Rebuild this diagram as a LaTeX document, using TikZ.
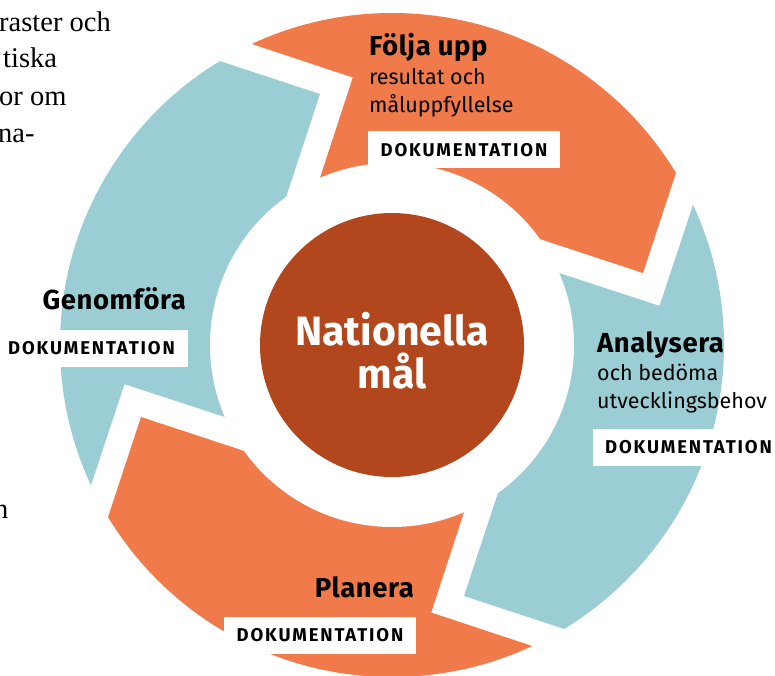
\documentclass[tikz,border=0pt]{standalone}
\usepackage{fontspec}
\setmainfont{Fira Sans}
\newfontfamily\bodyserif{Liberation Serif}
\newfontfamily\titlefont[LetterSpace=2.0]{Fira Sans}
\newfontfamily\docfont[LetterSpace=10.0]{Fira Sans}
\definecolor{ringorange}{HTML}{F07A4A}
\definecolor{ringteal}{HTML}{9BCED4}
\definecolor{corebrown}{HTML}{B2471E}
\tikzset{
  stagetitle/.style={inner sep=0pt, font=\titlefont\fontsize{27.5}{32}\selectfont\bfseries, text=black},
  stagetext/.style={inner sep=0pt, font=\fontsize{21.5}{26}\selectfont, text=black},
  docbox/.style={fill=white, inner sep=0pt, minimum width=192pt, minimum height=37pt,
    font=\docfont\fontsize{18.5}{22}\selectfont\bfseries, text=black},
  bodytext/.style={inner sep=0pt, font=\bodyserif\fontsize{28.5}{34}\selectfont, text=black, anchor=base west},
}
\begin{document}
\begin{tikzpicture}[x=1pt,y=1pt]
\useasboundingbox (0,0) rectangle (775,-676);
\clip (0,0) rectangle (775,-676);

% running text of the page, cut at the left margin
\node[bodytext] (t1) at (-1,-32) {raster och};
\node[bodytext] (t2) at (3,-68) {tiska};
\node[bodytext] (t3) at (-1,-106) {or om};
\node[bodytext] (t4) at (-2,-143) {na-};
\node[bodytext] (t5) at (-6,-518) {n};

% ring of four chevron-shaped stages, flowing clockwise
\begin{scope}[shift={(392,-345)}]
  \foreach \ang/\col in {0/ringorange, -90/ringteal, -180/ringorange, -270/ringteal}{
    \begin{scope}[rotate=\ang]
      \clip (0,0) circle (332);
      \fill[\col] (301,224) -- (251,72) -- (90,125) -- (0,0) -- (-92,106)
        -- (-39.2,267.5) -- (-229,330.5) -- (0,600) -- (500,400) -- cycle;
    \end{scope}
  }
  \fill[white] (0,0) circle (182);
\end{scope}

% centre
\node[circle, fill=corebrown, minimum size=264pt, inner sep=0pt] (core) at (392,-345) {};
\node[inner sep=0pt, anchor=base, text=white, font=\fontsize{41}{48}\selectfont\bfseries] (nat) at (392,-345) {Nationella};
\node[inner sep=0pt, anchor=base, text=white, font=\fontsize{41}{48}\selectfont\bfseries] (mal) at (392,-388) {mål};

% Följa upp
\node[stagetitle, anchor=base west] (f1) at (369,-56) {Följa upp};
\node[stagetext, anchor=base west] (f2) at (369,-85) {resultat och};
\node[stagetext, anchor=base west] (f3) at (369,-113) {måluppfyllelse};
\node[docbox] (fdoc) at (464,-150) {DOKUMENTATION};

% Analysera
\node[stagetitle, anchor=base west] (a1) at (597,-352) {Analysera};
\node[stagetext, anchor=base west] (a2) at (597,-380) {och bedöma};
\node[stagetext, anchor=base west] (a3) at (597,-408) {utvecklingsbehov};
\node[docbox] (adoc) at (688.5,-447) {DOKUMENTATION};

% Planera
\node[stagetitle, anchor=base east] (p1) at (414,-597) {Planera};
\node[docbox] (pdoc) at (320,-635.5) {DOKUMENTATION};

% Genomföra
\node[stagetitle, anchor=base east] (g1) at (186,-309) {Genomföra};
\node[docbox] (gdoc) at (91.5,-348.5) {DOKUMENTATION};
\end{tikzpicture}
\end{document}
